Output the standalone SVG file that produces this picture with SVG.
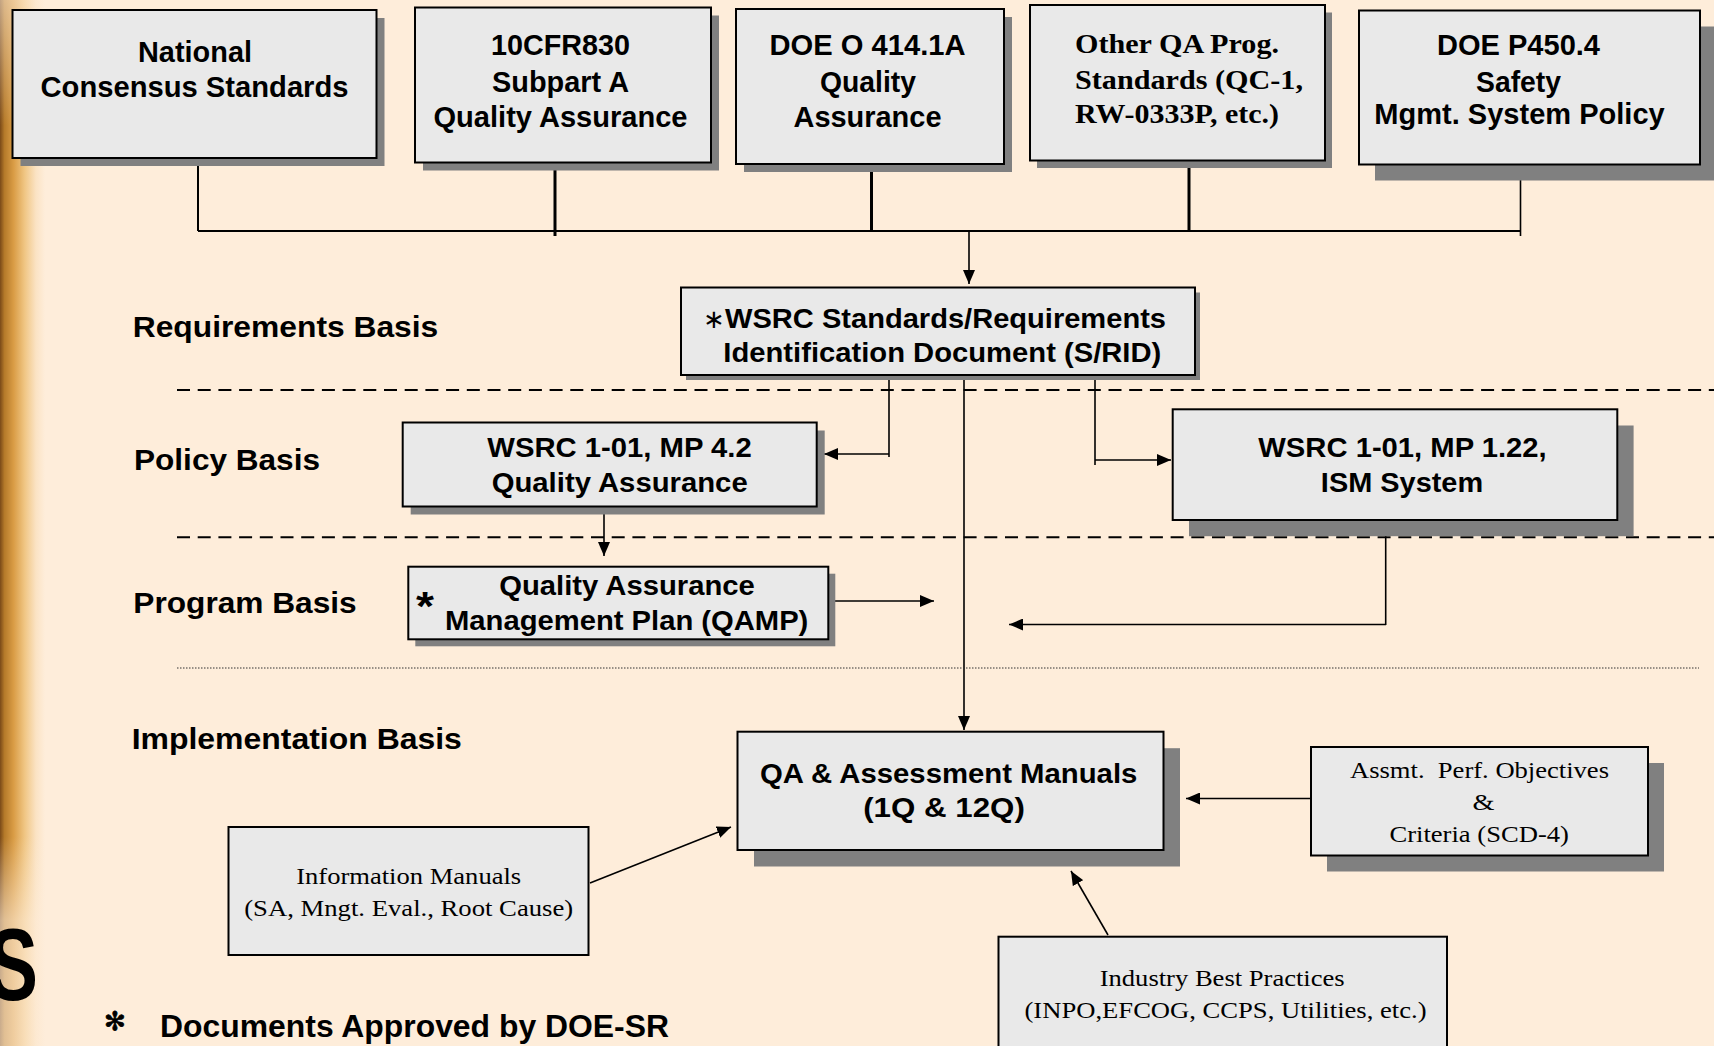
<svg xmlns="http://www.w3.org/2000/svg" width="1714" height="1046" viewBox="0 0 1714 1046">
<style>
.box{fill:#E9E9E9;stroke:#000;stroke-width:2}
.sh{fill:#808080}
.t{font-family:"Liberation Sans",Arial,sans-serif;font-weight:bold;fill:#000}
.s{font-family:"Liberation Serif","Times New Roman",serif;fill:#000}
.c{fill:none;stroke:#000;stroke-width:2}
.ck{fill:none;stroke:#000;stroke-width:3}
.cn{fill:none;stroke:#000;stroke-width:1.6}
.dash{fill:none;stroke:#000;stroke-width:2;stroke-dasharray:13 7.7}
.dot{fill:none;stroke:#333;stroke-width:1;stroke-dasharray:1.5 1.5}
</style>
<defs>
<linearGradient id="band" x1="0" y1="0" x2="1" y2="0">
<stop offset="0" stop-color="#7a4a18"/>
<stop offset="0.1" stop-color="#b57a2a"/>
<stop offset="0.3" stop-color="#d99c45"/>
<stop offset="0.55" stop-color="#f0c684"/>
<stop offset="0.8" stop-color="#fbe3c4"/>
<stop offset="1" stop-color="#feedda"/>
</linearGradient>
<linearGradient id="bandv" x1="0" y1="0" x2="0" y2="1">
<stop offset="0" stop-color="#feedda" stop-opacity="0.55"/>
<stop offset="0.12" stop-color="#feedda" stop-opacity="0"/>
<stop offset="0.8" stop-color="#feedda" stop-opacity="0"/>
<stop offset="0.88" stop-color="#feedda" stop-opacity="0.6"/>
<stop offset="1" stop-color="#feedda" stop-opacity="0.6"/>
</linearGradient>
<marker id="arr" viewBox="0 0 14 12" refX="14" refY="6" markerWidth="14" markerHeight="12" markerUnits="userSpaceOnUse" orient="auto">
<path d="M0,0 L14,6 L0,12 z" fill="#000"/>
</marker>
</defs>

<rect x="0" y="0" width="1714" height="1046" fill="#feedda"/>
<rect x="0" y="0" width="45" height="1046" fill="url(#band)"/>
<rect x="0" y="0" width="45" height="1046" fill="url(#bandv)"/>
<text class="t" x="-12" y="1000" font-size="102" textLength="50" lengthAdjust="spacingAndGlyphs">S</text>

<g id="connectors">
<path class="c" d="M198,158 V231"/>
<path class="ck" d="M555,162 V236"/>
<path class="ck" d="M871.5,164 V231"/>
<path class="ck" d="M1189,161 V231"/>
<path class="cn" d="M1520.5,165 V236"/>
<path class="c" d="M198,231 H1520.5"/>
<path class="cn" d="M969,231 V284" marker-end="url(#arr)"/>
<path class="cn" d="M889,376 V457"/>
<path class="cn" d="M889,454 H824" marker-end="url(#arr)"/>
<path class="cn" d="M1095,376 V465"/>
<path class="cn" d="M1095,460 H1171" marker-end="url(#arr)"/>
<path class="cn" d="M964,375 V730" marker-end="url(#arr)"/>
<path class="cn" d="M604,507 V556" marker-end="url(#arr)"/>
<path class="cn" d="M828,601 H934" marker-end="url(#arr)"/>
<path class="cn" d="M1385.7,521 V625"/>
<path class="cn" d="M1386,624.5 H1009" marker-end="url(#arr)"/>
<path class="cn" d="M1311,798.5 H1186" marker-end="url(#arr)"/>
<path class="cn" d="M590,883 L731,827" marker-end="url(#arr)"/>
<path class="cn" d="M1108,935 L1071,871" marker-end="url(#arr)"/>
</g>

<g id="separators">
<path class="dash" d="M177,390 H1714"/>
<path class="dash" d="M177,537.3 H1714"/>
<path class="dot" d="M177,668 H1699"/>
</g>

<g id="labels">
<text class="t" x="132.7" y="336.7" font-size="29" textLength="305.6" lengthAdjust="spacingAndGlyphs">Requirements Basis</text>
<text class="t" x="134" y="470" font-size="29" textLength="186" lengthAdjust="spacingAndGlyphs">Policy Basis</text>
<text class="t" x="133.3" y="613.3" font-size="29" textLength="223.4" lengthAdjust="spacingAndGlyphs">Program Basis</text>
<text class="t" x="131.7" y="749.3" font-size="29" textLength="330.2" lengthAdjust="spacingAndGlyphs">Implementation Basis</text>
</g>

<g id="national">
<rect class="sh" x="20.5" y="18" width="364" height="148"/>
<rect class="box" x="12.5" y="10" width="364" height="148"/>
<text class="t" x="195" y="62" font-size="29" text-anchor="middle" textLength="114" lengthAdjust="spacingAndGlyphs">National</text>
<text class="t" x="194.5" y="97" font-size="29" text-anchor="middle" textLength="308" lengthAdjust="spacingAndGlyphs">Consensus Standards</text>
</g>

<g id="cfr830">
<rect class="sh" x="423" y="15.5" width="296" height="155"/>
<rect class="box" x="415" y="7.5" width="296" height="155"/>
<text class="t" x="560.5" y="55" font-size="29" text-anchor="middle" textLength="139" lengthAdjust="spacingAndGlyphs">10CFR830</text>
<text class="t" x="560.5" y="91.5" font-size="29" text-anchor="middle" textLength="137" lengthAdjust="spacingAndGlyphs">Subpart A</text>
<text class="t" x="560.5" y="126.5" font-size="29" text-anchor="middle" textLength="254" lengthAdjust="spacingAndGlyphs">Quality Assurance</text>
</g>

<g id="doe-o-414">
<rect class="sh" x="744" y="17" width="268" height="155"/>
<rect class="box" x="736" y="9" width="268" height="155"/>
<text class="t" x="867.5" y="55" font-size="29" text-anchor="middle" textLength="196" lengthAdjust="spacingAndGlyphs">DOE O 414.1A</text>
<text class="t" x="868" y="91.5" font-size="29" text-anchor="middle" textLength="96" lengthAdjust="spacingAndGlyphs">Quality</text>
<text class="t" x="867.5" y="126.5" font-size="29" text-anchor="middle" textLength="148" lengthAdjust="spacingAndGlyphs">Assurance</text>
</g>

<g id="other-qa">
<rect class="sh" x="1037" y="12.5" width="295" height="155.5"/>
<rect class="box" x="1030" y="5" width="295" height="155.5"/>
<text class="s" font-weight="bold" x="1075" y="53" font-size="28" textLength="204" lengthAdjust="spacingAndGlyphs">Other QA Prog.</text>
<text class="s" font-weight="bold" x="1075" y="89" font-size="28" textLength="228" lengthAdjust="spacingAndGlyphs">Standards (QC-1,</text>
<text class="s" font-weight="bold" x="1075" y="123" font-size="28" textLength="204" lengthAdjust="spacingAndGlyphs">RW-0333P, etc.)</text>
</g>

<g id="doe-p450">
<rect class="sh" x="1375" y="26.5" width="341" height="154"/>
<rect class="box" x="1359" y="10.5" width="341" height="154"/>
<text class="t" x="1518.5" y="55" font-size="29" text-anchor="middle" textLength="163" lengthAdjust="spacingAndGlyphs">DOE P450.4</text>
<text class="t" x="1518.5" y="91.5" font-size="29" text-anchor="middle" textLength="85" lengthAdjust="spacingAndGlyphs">Safety</text>
<text class="t" x="1519.5" y="124" font-size="29" text-anchor="middle" textLength="290.5" lengthAdjust="spacingAndGlyphs">Mgmt. System Policy</text>
</g>

<g id="srid">
<rect class="sh" x="686" y="292.5" width="514" height="87.5"/>
<rect class="box" x="681" y="287.5" width="514" height="87.5"/>
<text x="703" y="328.3" font-size="26" font-family="DejaVu Sans, sans-serif">∗</text>
<text class="t" x="725" y="328.3" font-size="28" textLength="441" lengthAdjust="spacingAndGlyphs">WSRC Standards/Requirements</text>
<text class="t" x="723.3" y="361.7" font-size="28" textLength="438" lengthAdjust="spacingAndGlyphs">Identification Document (S/RID)</text>
</g>

<g id="mp42">
<rect class="sh" x="410.7" y="430.5" width="414" height="84"/>
<rect class="box" x="402.7" y="422.5" width="414" height="84"/>
<text class="t" x="619.5" y="456.7" font-size="28" text-anchor="middle" textLength="264.4" lengthAdjust="spacingAndGlyphs">WSRC 1-01, MP 4.2</text>
<text class="t" x="619.7" y="491.7" font-size="28" text-anchor="middle" textLength="256" lengthAdjust="spacingAndGlyphs">Quality Assurance</text>
</g>

<g id="qamp">
<rect class="sh" x="415.3" y="573.7" width="420" height="72.6"/>
<rect class="box" x="408.3" y="566.7" width="420" height="72.6"/>
<text class="t" x="416" y="620.3" font-size="40" textLength="18" lengthAdjust="spacingAndGlyphs">*</text>
<text class="t" x="627" y="595" font-size="28" text-anchor="middle" textLength="255.7" lengthAdjust="spacingAndGlyphs">Quality Assurance</text>
<text class="t" x="626.7" y="630" font-size="28" text-anchor="middle" textLength="363.3" lengthAdjust="spacingAndGlyphs">Management Plan (QAMP)</text>
</g>

<g id="mp122">
<rect class="sh" x="1189" y="425.5" width="444.6" height="110.7"/>
<rect class="box" x="1172.7" y="409.3" width="444.6" height="110.7"/>
<text class="t" x="1402.5" y="456.7" font-size="28" text-anchor="middle" textLength="288.4" lengthAdjust="spacingAndGlyphs">WSRC 1-01, MP 1.22,</text>
<text class="t" x="1402" y="491.7" font-size="28" text-anchor="middle" textLength="162.3" lengthAdjust="spacingAndGlyphs">ISM System</text>
</g>

<g id="qa-manuals">
<rect class="sh" x="754" y="748.2" width="426" height="118.3"/>
<rect class="box" x="737.5" y="731.7" width="426" height="118.3"/>
<text class="t" x="948.7" y="783.3" font-size="28" text-anchor="middle" textLength="377.3" lengthAdjust="spacingAndGlyphs">QA &amp; Assessment Manuals</text>
<text class="t" x="944" y="816.7" font-size="28" text-anchor="middle" textLength="161.7" lengthAdjust="spacingAndGlyphs">(1Q &amp; 12Q)</text>
</g>

<g id="assmt">
<rect class="sh" x="1327" y="763" width="337" height="108.5"/>
<rect class="box" x="1311" y="747" width="337" height="108.5"/>
<text class="s" xml:space="preserve" x="1479.5" y="778.3" font-size="24" text-anchor="middle" textLength="259" lengthAdjust="spacingAndGlyphs">Assmt.  Perf. Objectives</text>
<text class="s" x="1483.6" y="810" font-size="24" text-anchor="middle" textLength="22" lengthAdjust="spacingAndGlyphs">&amp;</text>
<text class="s" x="1479.2" y="841.7" font-size="24" text-anchor="middle" textLength="179.6" lengthAdjust="spacingAndGlyphs">Criteria (SCD-4)</text>
</g>

<g id="info-manuals">
<rect class="box" x="228.5" y="827" width="360" height="128"/>
<text class="s" x="408.7" y="884" font-size="24" text-anchor="middle" textLength="225" lengthAdjust="spacingAndGlyphs">Information Manuals</text>
<text class="s" x="408.7" y="916" font-size="24" text-anchor="middle" textLength="329" lengthAdjust="spacingAndGlyphs">(SA, Mngt. Eval., Root Cause)</text>
</g>

<g id="industry">
<rect class="box" x="998.5" y="936.7" width="448.5" height="130"/>
<text class="s" x="1222.2" y="986" font-size="24" text-anchor="middle" textLength="245" lengthAdjust="spacingAndGlyphs">Industry Best Practices</text>
<text class="s" x="1225.5" y="1018.3" font-size="24" text-anchor="middle" textLength="402" lengthAdjust="spacingAndGlyphs">(INPO,EFCOG, CCPS, Utilities, etc.)</text>
</g>

<g id="footnote">
<text x="104" y="1030" font-size="26" font-weight="bold" font-family="DejaVu Sans, sans-serif" stroke="#000" stroke-width="0.8">✻</text>
<text class="t" x="160" y="1037" font-size="32" textLength="509" lengthAdjust="spacingAndGlyphs">Documents Approved by DOE-SR</text>
</g>
</svg>
